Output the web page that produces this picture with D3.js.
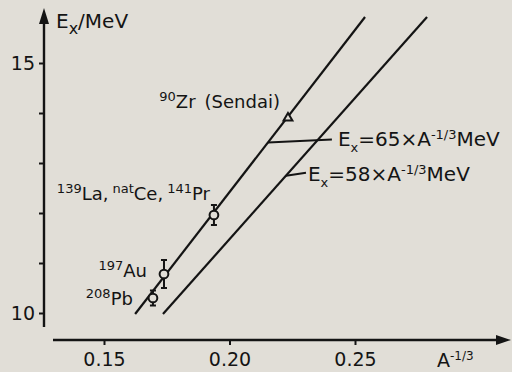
<!DOCTYPE html>
<html lang="en">
<head>
<meta charset="UTF-8">
<title>Ex vs A^-1/3</title>
<script src="https://cdn.jsdelivr.net/npm/d3@7/dist/d3.min.js"></script>
<style>
  html, body { margin: 0; padding: 0; background: #e1ded7; }
  svg { display: block; font-family: "DejaVu Sans", sans-serif; }
</style>
</head>
<body>
<svg class="svg"></svg>
<script>
  // measured points (x = A^-1/3, Ex in MeV)
  const nuclei = ['208Pb', '197Au', '139La', '90Zr'];
  const xVals  = [0.1695, 0.1739, 0.1938, 0.2233];
  const eVals  = [10.30, 10.78, 11.96, 13.90];
  const eErr   = [0.15, 0.28, 0.20, 0];
  const marker = ['circle', 'circle', 'circle', 'triangle'];

  // the two systematics lines Ex = k * A^-1/3, ends
  const lineK  = [65, 58];
  const lineX0 = [0.1624, 0.1735];
  const lineE0 = [9.98, 9.98];
  const lineX1 = [0.2540, 0.2787];
  const lineE1 = [15.92, 15.92];

  const xTicks = [0.15, 0.20, 0.25];
  const xTickLabels = ['0.15', '0.20', '0.25'];
  const yTicks = [10, 11, 12, 13, 14, 15];
  const yTickLabels = ['10', '', '', '', '', '15'];

  const w = 512, h = 372;
  const ink = '#141414';

  const xScale = d3.scaleLinear().domain([0.15, 0.25]).range([104, 355]);
  const yScale = d3.scaleLinear().domain([10, 15]).range([313, 63]);

  const svg = d3.select('.svg').attr('width', w).attr('height', h);
  svg.append('rect').attr('width', w).attr('height', h).attr('fill', '#e1ded7');

  // rich text helper: parts = [[text, 'sup' | 'sub' | '', dx], ...]
  function rich(sel, parts, big, small) {
    let shift = 0;
    parts.forEach(([t, kind, dx]) => {
      const target = kind === 'sup' ? -7 : kind === 'sub' ? 6 : 0;
      sel.append('tspan')
        .attr('dy', target - shift)
        .attr('dx', dx || 0)
        .attr('font-size', kind ? small : big)
        .text(t);
      shift = target;
    });
    return sel;
  }

  // axes
  const yAxis = d3.axisLeft(yScale).tickValues(yTicks)
    .tickFormat((d, i) => yTickLabels[i]).tickSize(5).tickPadding(4);
  const gy = svg.append('g').attr('transform', 'translate(44,0)').call(yAxis);
  gy.select('.domain').remove();
  gy.selectAll('line').attr('stroke', ink).attr('stroke-width', 2);
  gy.selectAll('text').attr('font-size', 19).attr('fill', ink)
    .attr('font-family', '"DejaVu Sans", sans-serif');

  const xAxis = d3.axisBottom(xScale).tickValues(xTicks)
    .tickFormat((d, i) => xTickLabels[i]).tickSize(5).tickPadding(8);
  const gx = svg.append('g').attr('transform', 'translate(0,340)').call(xAxis);
  gx.select('.domain').remove();
  gx.selectAll('line').attr('stroke', ink).attr('stroke-width', 2);
  gx.selectAll('text').attr('font-size', 19).attr('fill', ink)
    .attr('font-family', '"DejaVu Sans", sans-serif');

  // axis lines with arrows
  svg.append('line').attr('x1', 44).attr('x2', 44).attr('y1', 20).attr('y2', 327)
    .attr('stroke', ink).attr('stroke-width', 2.4);
  svg.append('path').attr('d', 'M44,8 L39,24 L49,24 Z').attr('fill', ink);
  svg.append('line').attr('x1', 53).attr('x2', 500).attr('y1', 340).attr('y2', 340)
    .attr('stroke', ink).attr('stroke-width', 2.4);
  svg.append('path').attr('d', 'M511,340 L496,335 L496,345 Z').attr('fill', ink);

  // axis titles
  rich(svg.append('text').attr('x', 56).attr('y', 28).attr('fill', ink),
    [['E', ''], ['x', 'sub'], ['/MeV', '']], 20, 16);
  rich(svg.append('text').attr('x', 437).attr('y', 367).attr('fill', ink),
    [['A', ''], ['-1/3', 'sup']], 19, 12);

  // lines
  const lines = lineK.map((k, i) => ({ k, x0: lineX0[i], e0: lineE0[i], x1: lineX1[i], e1: lineE1[i] }));
  svg.append('g').selectAll('line').data(lines).enter().append('line')
    .attr('x1', d => xScale(d.x0)).attr('y1', d => yScale(d.e0))
    .attr('x2', d => xScale(d.x1)).attr('y2', d => yScale(d.e1))
    .attr('stroke', ink).attr('stroke-width', 2.2);

  // points
  const pts = nuclei.map((n, i) => ({ n, x: xVals[i], e: eVals[i], err: eErr[i], m: marker[i] }));
  const gp = svg.append('g');
  const withErr = pts.filter(d => d.err > 0);
  gp.selectAll('.bar').data(withErr).enter().append('path')
    .attr('d', d => {
      const cx = xScale(d.x), t = yScale(d.e + d.err), b = yScale(d.e - d.err);
      return `M${cx},${t}V${b}M${cx - 3},${t}H${cx + 3}M${cx - 3},${b}H${cx + 3}`;
    })
    .attr('stroke', ink).attr('stroke-width', 2).attr('fill', 'none');
  gp.selectAll('.pt').data(pts).enter().append('path')
    .attr('transform', d => `translate(${xScale(d.x)},${yScale(d.e)})`)
    .attr('d', d => d.m === 'triangle'
      ? d3.symbol(d3.symbolTriangle, 34)()
      : d3.symbol(d3.symbolCircle, 60)())
    .attr('fill', '#e1ded7').attr('stroke', ink).attr('stroke-width', 2);

  // nucleus labels, offsets from their points
  const labelParts = [
    [['208', 'sup'], ['Pb', '']],
    [['197', 'sup'], ['Au', '']],
    [['139', 'sup'], ['La,', ''], ['nat', 'sup', 4], ['Ce,', ''], ['141', 'sup', 4], ['Pr', '']],
    [['90', 'sup'], ['Zr', ''], ['(Sendai)', '', 9]]
  ];
  const labelOff = [[-20, 7], [-17, 3], [-4, -15], [-8, -10]];
  pts.forEach((d, i) => {
    const t = svg.append('text').attr('text-anchor', 'end').attr('fill', ink)
      .attr('x', xScale(d.x) + labelOff[i][0])
      .attr('y', yScale(d.e) + labelOff[i][1]);
    rich(t, labelParts[i], 18, 13);
  });

  // equation labels with leaders
  const eqParts = lineK.map(k => [['E', ''], ['x', 'sub'], ['=' + k + '×A', ''], ['-1/3', 'sup'], ['MeV', '']]);
  const leadAt = [0.2153, 0.2225];
  const leadEnd = [[64, -3], [20, -3]];
  const textAt = [[70, 4], [22, 5]];
  lines.forEach((d, i) => {
    const lx = xScale(leadAt[i]);
    const f = (leadAt[i] - d.x0) / (d.x1 - d.x0);
    const ly = yScale(d.e0 + f * (d.e1 - d.e0));
    svg.append('line').attr('x1', lx).attr('y1', ly)
      .attr('x2', lx + leadEnd[i][0]).attr('y2', ly + leadEnd[i][1])
      .attr('stroke', ink).attr('stroke-width', 2);
    const t = svg.append('text').attr('fill', ink)
      .attr('x', lx + textAt[i][0]).attr('y', ly + textAt[i][1]);
    rich(t, eqParts[i], 20, 13);
  });
</script>
</body>
</html>
